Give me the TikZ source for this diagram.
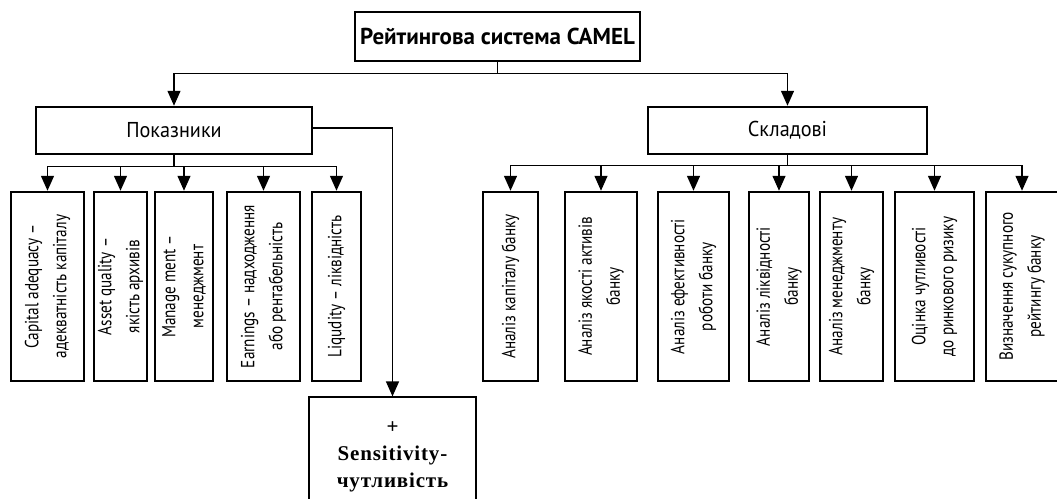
\documentclass[tikz,border=0pt]{standalone}
\usepackage{fontspec}
\setmainfont{PT Sans}
\newfontfamily\boxfont[FakeStretch=0.8]{PT Sans}
\newfontfamily\headfont[FakeStretch=0.94]{PT Sans}
\newfontfamily\sensfont[LetterSpace=4]{Liberation Serif}
\usetikzlibrary{arrows.meta}
\begin{document}
\begin{tikzpicture}[x=1pt,y=-1pt,
  box/.style={draw, line width=2.5pt, inner sep=0pt, align=center},
  vbox/.style={box, rotate=90, minimum width=189pt,
    font=\boxfont\fontsize{19}{28}\selectfont},
  wire/.style={line width=1.4pt},
  link/.style={wire, -{Triangle[width=13pt,length=15pt]}}]
\useasboundingbox (0,0) rectangle (1057,498);
\fill[white] (0,0) rectangle (1057,498);
\clip (0,0) rectangle (1057,498);

% top level
\node[box, minimum width=285pt, minimum height=49pt,
  font=\bfseries\fontsize{23}{27}\selectfont] (top) at (497.5,36.5)
  {Рейтингова система CAMEL};
\node[box, minimum width=276pt, minimum height=47pt,
  font=\headfont\fontsize{21.5}{26}\selectfont] (pok) at (174,130.5) {Показники};
\node[box, minimum width=279pt, minimum height=47pt,
  font=\headfont\fontsize{21.5}{26}\selectfont] (skl) at (787.5,130.5) {Складові};

% indicators
\node[vbox, minimum height=73pt] (c1) at (47.5,286.5)
  {Capital adequacy –\\адекватність капіталу};
\node[vbox, minimum height=53pt] (c2) at (120.5,286.5)
  {Asset quality –\\якість архивів};
\node[vbox, minimum height=58pt] (c3) at (184,286.5)
  {Manage ment –\\менеджмент};
\node[vbox, minimum height=73pt] (c4) at (263.5,286.5)
  {Earnings – надходження\\або рентабельність};
\node[vbox, minimum height=49pt] (c5) at (336.5,286.5)
  {Liqudity – ліквідність};

% sensitivity
\node[draw, line width=1.2pt, minimum width=167pt, minimum height=120pt,
  align=center, font=\sensfont\bfseries\fontsize{21}{27}\selectfont]
  (sens) at (392.5,457) {+\\Sensitivity-\\чутливість};

% components
\node[vbox, minimum height=55pt] (r1) at (510.5,286.5)
  {Аналіз капіталу банку};
\node[vbox, minimum height=72pt] (r2) at (601,286.5)
  {Аналіз якості активів\\банку};
\node[vbox, minimum height=71pt] (r3) at (693.5,286.5)
  {Аналіз ефективності\\роботи банку};
\node[vbox, minimum height=60pt] (r4) at (779,286.5)
  {Аналіз ліквідності\\банку};
\node[vbox, minimum height=63pt] (r5) at (851.5,286.5)
  {Аналіз менеджменту\\банку};
\node[vbox, minimum height=79pt] (r6) at (934.5,286.5)
  {Оцінка чутливості\\до ринкового ризику};
\node[vbox, minimum height=72pt] (r7) at (1022,286.5)
  {Визначення сукупного\\рейтингу банку};

% connectors
\path (top.south) ++(0,11) coordinate (tbus);
\draw[wire] (top.south) -- (tbus);
\draw[link] (tbus) -| (pok.north);
\draw[link] (tbus) -| (skl.north);

\path (pok.south) ++(0,11) coordinate (pbus);
\draw[wire] (pok.south) -- (pbus);
\foreach \n in {c1,c2,c3,c4,c5}
  \draw[link] (pbus) -| (\n.east);

\path (skl.south) ++(0,10) coordinate (sbus);
\draw[wire] (skl.south) -- (sbus);
\foreach \n in {r1,r2,r3,r4,r5,r6,r7}
  \draw[link] (sbus) -| (\n.east);

\draw[link] ([yshift=2.5pt]pok.east) -| (sens.north);
\end{tikzpicture}
\end{document}
